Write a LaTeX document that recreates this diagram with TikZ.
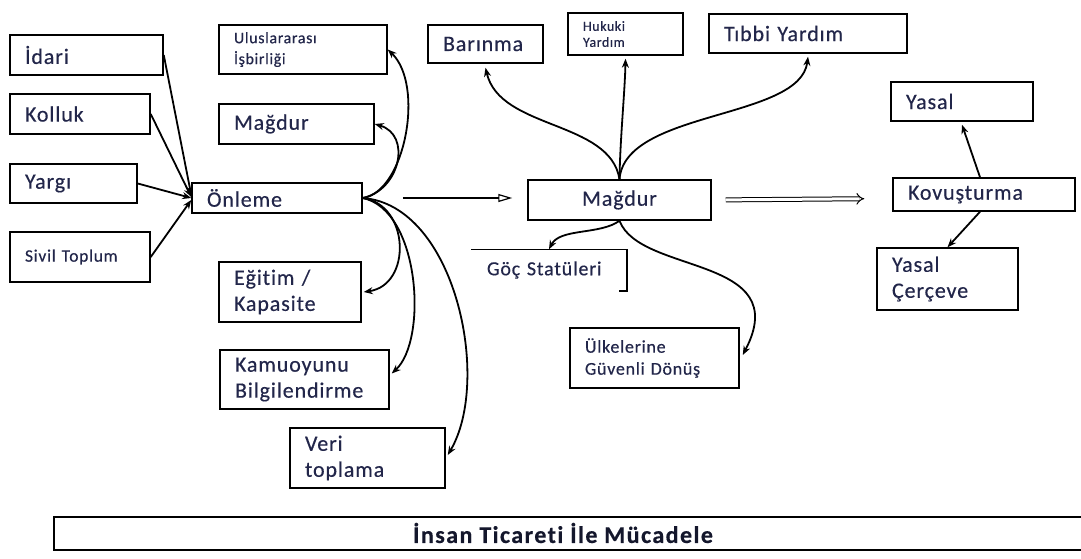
\documentclass[tikz,border=0pt]{standalone}
\usepackage{fontspec}
\setmainfont{Carlito}[LetterSpace=4, Ligatures={NoCommon}, FakeBold=0.4]
\usetikzlibrary{arrows.meta}

\definecolor{ink}{RGB}{34,38,74}

\begin{document}
\begin{tikzpicture}[x=1pt, y=-1pt, >={Stealth[length=9pt, width=7pt]},
    box/.style={draw, line width=1.5pt, text=ink, inner xsep=15pt, inner ysep=0pt,
        align=left, text width=#1, font=\fontsize{22}{26}\selectfont},
    link/.style={->, line width=1.8pt},
    big/.style={font=\fontsize{20}{24}\selectfont},
    mid/.style={font=\fontsize{18}{22}\selectfont},
    tiny/.style={font=\fontsize{16}{21}\selectfont},
    tinier/.style={font=\fontsize{14}{16}\selectfont},
    ]
    \useasboundingbox (0,0) rectangle (1081,559);

    % Nodes left
    \node[box=123, minimum height=40] (idari) at (86.5,55) {İdari};
    \node[box=110, minimum height=40] (kolluk) at (80,114) {Kolluk};
    \node[box=97, minimum height=39] (yargi) at (73.5,183.5) {Yargı};
    \node[box=110, minimum height=50, font=\fontsize{17.5}{21}\selectfont] (sivil) at (80,257) {Sivil Toplum};

    % Nodes Onleme
    \node[box=140, minimum height=30] (onleme) at (277,198) {Önleme};
    \node[box=138, minimum height=49, tiny] (ulus) at (303,49.5) {Uluslararası\\İşbirliği};
    \node[box=125, minimum height=40] (magdurL) at (296.5,124) {Mağdur};
    \node[box=112, minimum height=60] (egitim) at (290,292) {Eğitim /\\Kapasite};
    \node[box=139, minimum height=59] (kamu) at (304.5,379.5) {Kamuoyunu\\Bilgilendirme};
    \node[box=125, minimum height=60] (veri) at (367.5,458) {Veri\\toplama};

    % Nodes Magdur
    \node[box=153, minimum height=40, align=center] (magdur) at (619.5,200) {Mağdur};
    \node[box=85, minimum height=38] (barinma) at (485.5,44) {Barınma};
    \node[box=85, minimum height=42, tinier] (hukuki) at (625.5,34) {Hukuki\\Yardım};
    \node[box=168, minimum height=39] (tibbi) at (808,33.5) {Tıbbi Yardım};
    \node[box=124, minimum height=40, draw=none, big] (goc) at (549,270) {Göç Statüleri};
    \draw[line width=1.5pt] (goc.north west) -- (goc.north east) -- (goc.south east) -- ++(-8,0);
    \node[box=139, minimum height=60, mid] (ulke) at (654.5,358) {Ülkelerine\\Güvenli Dönüş};

    % Nodes Kovusturma
    \node[box=152, minimum height=33] (kovus) at (984,194.5) {Kovuşturma};
    \node[box=112, minimum height=39] (yasal) at (962,101.5) {Yasal};
    \node[box=111, minimum height=62] (cerceve) at (947.5,279) {Yasal\\Çerçeve};

    % Bottom frame
    \draw[line width=1.5pt] (54,517) rectangle (1095,550);
    \node[text=ink!60!black, font=\fontsize{24}{28}\selectfont\bfseries\addfontfeatures{LetterSpace=6}]
        (insan) at (563,533) {İnsan Ticareti İle Mücadele};

    % Connections to Onleme
    \draw[link] (idari.east) -- ([yshift=3pt]onleme.west);
    \draw[link] (kolluk.east) -- ([yshift=1pt]onleme.west);
    \draw[link] (yargi.east) -- (onleme.west);
    \draw[link] (sivil.east) -- ([yshift=-2pt]onleme.west);

    % Connections from Onleme
    \draw[link] (onleme.east) .. controls (405,192) and (425,85) .. (ulus.east);
    \draw[link] (onleme.east) .. controls (400,190) and (412,135) .. (magdurL.east);
    \draw[link] (onleme.east) .. controls (410,205) and (412,285) .. ([xshift=2pt]egitim.east);
    \draw[link] (onleme.east) .. controls (420,210) and (428,340) .. ([xshift=2pt, yshift=6pt]kamu.east);
    \draw[link] (onleme.east) .. controls (455,205) and (492,380) .. ([xshift=2pt, yshift=3pt]veri.east);
    \draw[line width=1.2pt, -{Triangle[open, length=14pt, width=8pt]}, shorten <=40pt, shorten >=15pt]
        (onleme.east) -- ([yshift=2pt]magdur.west);

    % Connections from Magdur
    \draw[link] (magdur.north) .. controls (610,120) and (500,130) .. ([yshift=-4pt]barinma.south);
    \draw[link] (magdur.north) .. controls (620,140) and (625,90) .. ([yshift=-3pt]hukuki.south);
    \draw[link] (magdur.north) .. controls (625,110) and (800,120) .. ([yshift=-3pt]tibbi.south);
    \draw[link] (magdur.south) .. controls (600,235) and (560,228) .. (goc.north);
    \draw[link] (magdur.south) .. controls (640,275) and (795,255) .. ([xshift=3pt, yshift=3pt]ulke.east);
    \draw[line width=1pt, double, double distance=3pt, -{Implies[length=10pt]},
        shorten <=14pt, shorten >=28pt] (magdur.east) -- ([yshift=-4pt]kovus.west);

    % Connections from Kovusturma
    \draw[link] ([xshift=-4pt]kovus.north) -- ([yshift=-3pt]yasal.south);
    \draw[link] ([xshift=-4pt]kovus.south) -- (cerceve.north);
\end{tikzpicture}
\end{document}
